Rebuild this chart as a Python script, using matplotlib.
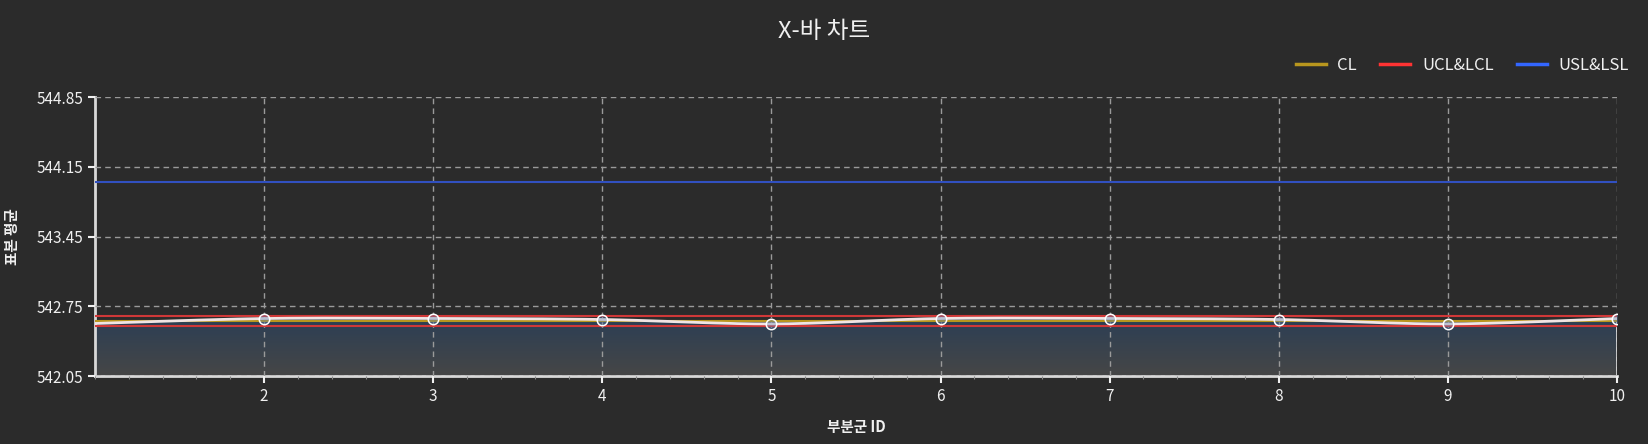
import numpy as np
import matplotlib
matplotlib.use("Agg")
import matplotlib.pyplot as plt
from matplotlib.colors import LinearSegmentedColormap
from matplotlib.ticker import MultipleLocator

plt.rcParams['font.family'] = ['Noto Sans CJK KR', 'DejaVu Sans']
plt.rcParams['axes.unicode_minus'] = False

# 데이터
subgroup_ids = [1, 2, 3, 4, 5, 6, 7, 8, 9, 10]
sample_means = [542.578, 542.628, 542.628, 542.618, 542.574,
                542.628, 542.628, 542.618, 542.574, 542.628]
cl = 542.604
ucl = 542.652
lcl = 542.557
usl = 544.00
lsl = 541.20
y_ticks = [542.05, 542.75, 543.45, 544.15, 544.85]

BG = '#2b2b2b'
FG = '#f0f0f0'

fig = plt.figure(figsize=(16.49, 4.44), dpi=100, facecolor=BG)
ax = fig.add_axes([0.0576, 0.153, 0.923, 0.628], facecolor=BG)

x = np.array(subgroup_ids, dtype=float)
y = np.array(sample_means)

# 부드러운 곡선 (Catmull-Rom)
xs, ys = [], []
pts = np.column_stack([x, y])
pad = np.vstack([pts[0], pts, pts[-1]])
for i in range(1, len(pad) - 2):
    p0, p1, p2, p3 = pad[i - 1], pad[i], pad[i + 1], pad[i + 2]
    for t in np.linspace(0, 1, 20, endpoint=False):
        t2, t3 = t * t, t * t * t
        p = 0.5 * ((2 * p1) + (-p0 + p2) * t + (2 * p0 - 5 * p1 + 4 * p2 - p3) * t2
                   + (-p0 + 3 * p1 - 3 * p2 + p3) * t3)
        xs.append(p[0]); ys.append(p[1])
xs.append(x[-1]); ys.append(y[-1])
xs, ys = np.array(xs), np.array(ys)

ymin, ymax = y_ticks[0], y_ticks[-1]
ax.set_xlim(1, 10)
ax.set_ylim(ymin, ymax)

# 그라데이션 영역
poly = ax.fill_between(xs, ys, ymin, color='none', lw=0)
cmap = LinearSegmentedColormap.from_list('g', ['#2c3f55', '#464646'])
grad = np.linspace(0, 1, 256).reshape(-1, 1)
img = ax.imshow(grad, cmap=cmap, aspect='auto', extent=[1, 10, ymin, ys.max()],
                origin='upper', zorder=1)
img.set_clip_path(poly.get_paths()[0], transform=ax.transData)
ax.plot([10, 10], [ymin, y[-1]], color='#e0e0e0', lw=2, zorder=2)

ax.grid(True, color='#9a9a9a', linestyle=(0, (4, 3)), linewidth=1, zorder=1.5)
ax.set_axisbelow(False)

ax.axhline(usl, color='#3150c0', lw=1.5, zorder=3)
ax.axhline(lsl, color='#3150c0', lw=1.5, zorder=3)
ax.axhline(ucl, color='#d03838', lw=1.5, zorder=3)
ax.axhline(lcl, color='#d03838', lw=1.5, zorder=3)
ax.axhline(cl, color='#b8961e', lw=1.5, zorder=3)

ax.plot(xs, ys, color='#f0e4e4', lw=2, zorder=4)
ax.plot(x, y, linestyle='none', marker='o', markersize=7.5, markerfacecolor=(0.35, 0.5, 0.7, 0.35),
        markeredgecolor='white', markeredgewidth=1.1, zorder=5, markevery=list(range(1, 10)))

# 범례
ax.plot([], [], color='#b8961e', lw=2.5, label='CL')
ax.plot([], [], color='#ff3333', lw=2.5, label='UCL&LCL')
ax.plot([], [], color='#3366ff', lw=2.5, label='USL&LSL')
handles, labels = ax.get_legend_handles_labels()
leg = fig.legend(handles[-3:], labels[-3:], loc='upper right', bbox_to_anchor=(0.997, 0.905),
                 ncol=3, frameon=False, fontsize=12, handlelength=1.8, columnspacing=1.4,
                 handletextpad=0.7)
for t in leg.get_texts():
    t.set_color(FG)

ax.set_xticks(subgroup_ids[1:])
ax.xaxis.set_minor_locator(MultipleLocator(0.2))
ax.set_yticks(y_ticks)
ax.set_yticklabels([f'{v:.2f}' for v in y_ticks])
ax.tick_params(axis='both', colors=FG, labelsize=11, length=5, width=1.5)
ax.tick_params(axis='x', which='minor', colors='#888888', length=2, width=0.8)

for s in ['top', 'right']:
    ax.spines[s].set_visible(False)
for s in ['left', 'bottom']:
    ax.spines[s].set_color('#d8d8d8')
    ax.spines[s].set_linewidth(2)

ax.set_xlabel('부분군 ID', color=FG, fontsize=10.5, fontweight='bold', labelpad=10)
ax.set_ylabel('표본 평균', color=FG, fontsize=10.5, fontweight='bold', labelpad=12)
fig.suptitle('X-바 차트', color=FG, fontsize=17, y=0.955)

fig.savefig('out.png', dpi=100, facecolor=BG)
